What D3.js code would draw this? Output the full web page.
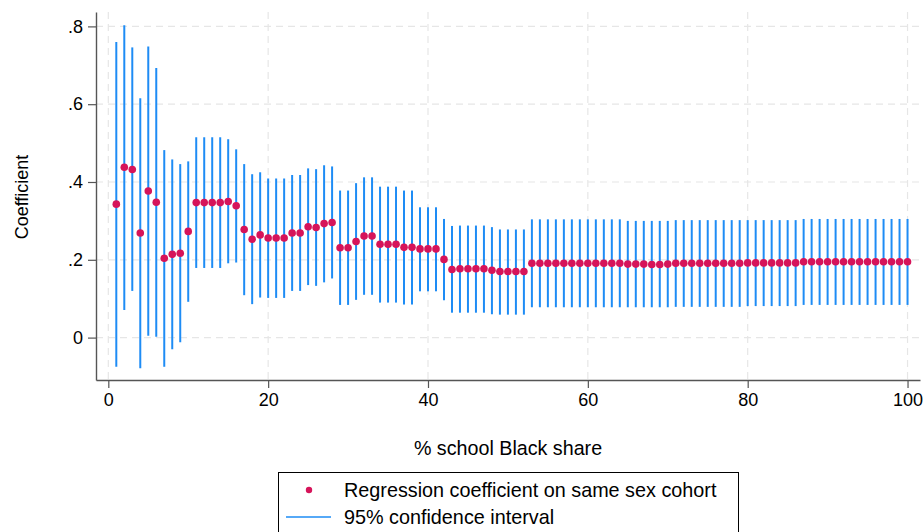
<!DOCTYPE html>
<html>
<head>
<meta charset="utf-8">
<script src="https://cdn.jsdelivr.net/npm/d3@7"></script>
<style>
  body { margin: 0; background: #fff; }
  svg { display: block; font-family: "Liberation Sans", Arial, Helvetica, sans-serif; }
</style>
</head>
<body>
<svg id="chart" width="924" height="532"></svg>
<script>
// % school Black share (x categories)
const share = [1,2,3,4,5,6,7,8,9,10,11,12,13,14,15,16,17,18,19,20,
  21,22,23,24,25,26,27,28,29,30,31,32,33,34,35,36,37,38,39,40,
  41,42,43,44,45,46,47,48,49,50,51,52,53,54,55,56,57,58,59,60,
  61,62,63,64,65,66,67,68,69,70,71,72,73,74,75,76,77,78,79,80,
  81,82,83,84,85,86,87,88,89,90,91,92,93,94,95,96,97,98,99,100];

// point estimates
const coef = [0.343,0.438,0.432,0.269,0.377,0.348,0.204,0.214,0.217,0.273,
  0.347,0.347,0.347,0.347,0.350,0.339,0.278,0.253,0.264,0.256,
  0.256,0.256,0.269,0.269,0.285,0.283,0.293,0.296,0.231,0.231,
  0.247,0.261,0.261,0.240,0.240,0.240,0.232,0.232,0.228,0.228,
  0.228,0.201,0.175,0.177,0.177,0.177,0.177,0.173,0.170,0.170,
  0.170,0.170,0.191,0.191,0.191,0.191,0.191,0.191,0.191,0.191,
  0.191,0.191,0.191,0.191,0.189,0.189,0.189,0.188,0.188,0.189,
  0.191,0.191,0.191,0.191,0.191,0.191,0.191,0.191,0.191,0.192,
  0.192,0.192,0.192,0.192,0.192,0.192,0.195,0.195,0.195,0.195,
  0.195,0.195,0.195,0.195,0.195,0.195,0.195,0.195,0.195,0.195];

// 95% CI upper bound
const ciHigh = [0.760,0.803,0.746,0.615,0.748,0.693,0.482,0.458,0.446,0.453,
  0.515,0.515,0.515,0.515,0.510,0.484,0.446,0.420,0.425,0.409,
  0.409,0.409,0.418,0.418,0.435,0.433,0.443,0.440,0.378,0.378,
  0.397,0.412,0.412,0.388,0.388,0.388,0.378,0.378,0.335,0.335,
  0.335,0.305,0.287,0.288,0.288,0.288,0.288,0.284,0.278,0.278,
  0.278,0.278,0.304,0.304,0.304,0.304,0.304,0.304,0.304,0.304,
  0.304,0.304,0.304,0.304,0.300,0.300,0.300,0.300,0.300,0.300,
  0.302,0.302,0.302,0.302,0.302,0.302,0.302,0.302,0.302,0.302,
  0.302,0.302,0.302,0.302,0.302,0.302,0.305,0.305,0.305,0.305,
  0.305,0.305,0.305,0.305,0.305,0.305,0.305,0.305,0.305,0.305];

// 95% CI lower bound
const ciLow = [-0.075,0.071,0.120,-0.079,0.005,0.002,-0.075,-0.030,-0.012,0.092,
  0.179,0.179,0.179,0.179,0.191,0.193,0.109,0.086,0.103,0.102,
  0.102,0.102,0.120,0.120,0.135,0.133,0.142,0.152,0.084,0.084,
  0.097,0.110,0.110,0.090,0.090,0.090,0.085,0.085,0.119,0.119,
  0.119,0.096,0.064,0.064,0.064,0.064,0.064,0.060,0.059,0.059,
  0.059,0.059,0.078,0.078,0.078,0.078,0.078,0.078,0.078,0.078,
  0.078,0.078,0.078,0.078,0.078,0.078,0.078,0.078,0.078,0.078,
  0.079,0.079,0.079,0.079,0.079,0.079,0.079,0.079,0.079,0.081,
  0.081,0.081,0.081,0.081,0.081,0.081,0.084,0.084,0.084,0.084,
  0.084,0.084,0.084,0.084,0.084,0.084,0.084,0.084,0.084,0.084];

const xTicks = [0, 20, 40, 60, 80, 100];
const yTicks = [0, 0.2, 0.4, 0.6, 0.8];
const yTickLabels = ["0", ".2", ".4", ".6", ".8"];

const legendLabels = ["Regression coefficient on same sex cohort", "95% confidence interval"];

const dotColor = "#d6145a";
const ciColor = "#1e8cf5";
const gridColor = "#e6e6e6";
const axisColor = "#555";

const svg = d3.select("#chart");

// plot region
const plotLeft = 96, plotRight = 920, plotTop = 12, plotBottom = 380;

const x = d3.scaleLinear().domain([-1.54, 101.56]).range([plotLeft, plotRight]);
const y = d3.scaleLinear().domain([-0.109, 0.837]).range([plotBottom, plotTop]);

const rows = share.map((s, i) => ({ s, b: coef[i], lo: ciLow[i], hi: ciHigh[i] }));

/* gridlines */
svg.append("g")
  .selectAll("line")
  .data(yTicks)
  .join("line")
  .attr("x1", plotLeft).attr("x2", plotRight)
  .attr("y1", d => y(d)).attr("y2", d => y(d))
  .attr("stroke", gridColor)
  .attr("stroke-width", 1.2)
  .attr("stroke-dasharray", "7,5");

svg.append("g")
  .selectAll("line")
  .data(xTicks)
  .join("line")
  .attr("x1", d => x(d)).attr("x2", d => x(d))
  .attr("y1", plotTop).attr("y2", plotBottom)
  .attr("stroke", gridColor)
  .attr("stroke-width", 1.2)
  .attr("stroke-dasharray", "7,5");

/* confidence intervals */
svg.append("g")
  .selectAll("line")
  .data(rows)
  .join("line")
  .attr("x1", d => x(d.s)).attr("x2", d => x(d.s))
  .attr("y1", d => y(d.lo)).attr("y2", d => y(d.hi))
  .attr("stroke", ciColor)
  .attr("stroke-width", 2);

/* point estimates */
svg.append("g")
  .selectAll("circle")
  .data(rows)
  .join("circle")
  .attr("cx", d => x(d.s))
  .attr("cy", d => y(d.b))
  .attr("r", 3.8)
  .attr("fill", dotColor);

/* axes */
const xAxis = svg.append("g")
  .attr("transform", `translate(0,${plotBottom})`)
  .call(d3.axisBottom(x).tickValues(xTicks).tickSize(8).tickPadding(5).tickSizeOuter(0));

const yAxis = svg.append("g")
  .attr("transform", `translate(${plotLeft},0)`)
  .call(d3.axisLeft(y).tickValues(yTicks).tickSize(8).tickPadding(5).tickSizeOuter(0)
    .tickFormat((d, i) => yTickLabels[i]));

[xAxis, yAxis].forEach(g => {
  g.select(".domain").attr("stroke", axisColor).attr("stroke-width", 1.4);
  g.selectAll(".tick line").attr("stroke", axisColor).attr("stroke-width", 1.2);
  g.selectAll(".tick text")
    .attr("fill", "#000")
    .style("font-size", "18px")
    .style("font-family", "\"Liberation Sans\", Arial, sans-serif");
});

// axis titles
svg.append("text")
  .attr("x", (plotLeft + plotRight) / 2)
  .attr("y", 455)
  .attr("text-anchor", "middle")
  .style("font-size", "19.7px")
  .text("% school Black share");

svg.append("text")
  .attr("transform", "translate(28,197) rotate(-90)")
  .attr("text-anchor", "middle")
  .style("font-size", "18px")
  .text("Coefficient");

/* legend */
const legend = svg.append("g");

legend.append("rect")
  .attr("x", 278.5).attr("y", 472.5)
  .attr("width", 460).attr("height", 80)
  .attr("fill", "#fff")
  .attr("stroke", "#000")
  .attr("stroke-width", 1);

legend.append("circle")
  .attr("cx", 309).attr("cy", 490)
  .attr("r", 3.2)
  .attr("fill", dotColor);

legend.append("line")
  .attr("x1", 286).attr("x2", 331)
  .attr("y1", 517).attr("y2", 517)
  .attr("stroke", ciColor)
  .attr("stroke-width", 1.6);

legend.selectAll("text")
  .data(legendLabels)
  .join("text")
  .attr("x", 344)
  .attr("y", (d, i) => 497 + i * 27)
  .style("font-size", "19.8px")
  .text(d => d);
</script>
</body>
</html>
